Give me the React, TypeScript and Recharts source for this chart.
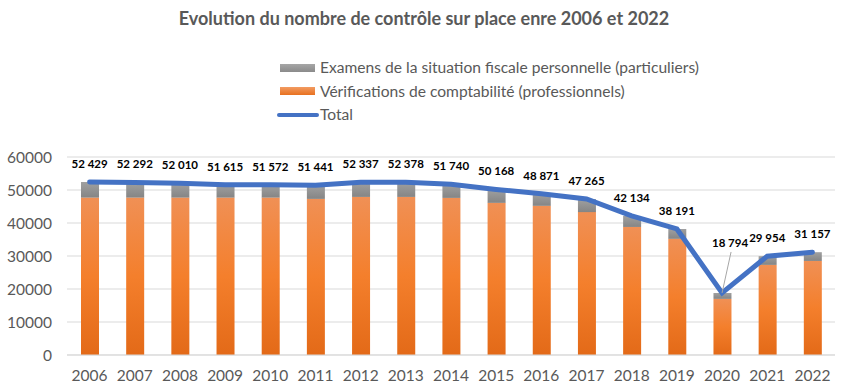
import { ComposedChart, Bar, Line, XAxis, YAxis, CartesianGrid, LabelList } from 'recharts';

const years = ['2006', '2007', '2008', '2009', '2010', '2011', '2012', '2013', '2014', '2015', '2016', '2017', '2018', '2019', '2020', '2021', '2022'];
const verifications = [47700, 47700, 47700, 47700, 47700, 47300, 47900, 47900, 47600, 46100, 45200, 43300, 38800, 35200, 17000, 27300, 28500];
const examens = [4729, 4592, 4310, 3915, 3872, 4141, 4437, 4478, 4140, 4068, 3671, 3965, 3334, 2991, 1794, 2654, 2657];
const totals = [52429, 52292, 52010, 51615, 51572, 51441, 52337, 52378, 51740, 50168, 48871, 47265, 42134, 38191, 18794, 29954, 31157];
const yTicks = [0, 10000, 20000, 30000, 40000, 50000, 60000];

const data = years.map((year, i) => ({
    year,
    verif: verifications[i],
    exam: examens[i],
    total: totals[i],
}));

const FONT = 'Lato, "Open Sans", sans-serif';
const TEXT = '#595959';

const fmt = (v: number) => String(v).replace(/\B(?=(\d{3})+(?!\d))/g, ' ');

// data label above each line point; 2020 gets a leader line
const TotalLabel = (props: any) => {
    const { x, y, value, index } = props;
    if (index === 14) {
        return (
            <g>
                <line x1={x + 9} y1={y - 41} x2={x} y2={y} stroke="#A6A6A6" strokeWidth={1} />
                <text x={x + 8} y={y - 46} textAnchor="middle" fontSize={11.5} fontWeight={700} fill="#000" fontFamily={FONT}>{fmt(value)}</text>
            </g>
        );
    }
    return (
        <text x={x} y={y - 14} textAnchor="middle" fontSize={11.5} fontWeight={700} fill="#000" fontFamily={FONT}>{fmt(value)}</text>
    );
};

export default function App() {
    return (
        <div style={{ position: 'absolute', left: 0, top: 0, width: 848, height: 391, background: '#fff', fontFamily: FONT }}>
            {/* Title */}
            <div style={{ position: 'absolute', top: 7, left: 0, width: 848, textAlign: 'center', fontSize: 18, fontWeight: 700, color: TEXT }}>
                Evolution du nombre de contrôle sur place enre 2006 et 2022
            </div>

            {/* Legend */}
            <div style={{ position: 'absolute', top: 56, left: 277, fontSize: 15.6, color: TEXT, lineHeight: '23.5px' }}>
                <div style={{ display: 'flex', alignItems: 'center' }}>
                    <span style={{ width: 35, height: 8, marginLeft: 3, marginRight: 5, background: 'linear-gradient(#a6a6a6, #8a8a8a)' }} />
                    Examens de la situation fiscale personnelle (particuliers)
                </div>
                <div style={{ display: 'flex', alignItems: 'center' }}>
                    <span style={{ width: 35, height: 8, marginLeft: 3, marginRight: 5, background: 'linear-gradient(#f29b62, #e8711f)' }} />
                    Vérifications de comptabilité (professionnels)
                </div>
                <div style={{ display: 'flex', alignItems: 'center' }}>
                    <span style={{ width: 42, height: 4, borderRadius: 2, marginRight: 1, background: '#4472C4' }} />
                    Total
                </div>
            </div>

            <div style={{ position: 'absolute', left: 0, top: 0 }}>
                <ComposedChart width={848} height={391} data={data} margin={{ top: 157, right: 13, bottom: 0, left: 0 }}>
                    <defs>
                        <linearGradient id="gOrange" x1="0" y1="0" x2="0" y2="1">
                            <stop offset="0%" stopColor="#F09055" />
                            <stop offset="50%" stopColor="#F47F2C" />
                            <stop offset="100%" stopColor="#E36A18" />
                        </linearGradient>
                        <linearGradient id="gGrey" x1="0" y1="0" x2="0" y2="1">
                            <stop offset="0%" stopColor="#A0A0A0" />
                            <stop offset="100%" stopColor="#858585" />
                        </linearGradient>
                    </defs>
                    <CartesianGrid vertical={false} stroke="#D9D9D9" />
                    <XAxis
                        dataKey="year"
                        height={36}
                        tickLine={false}
                        axisLine={{ stroke: '#D9D9D9' }}
                        tick={{ fill: TEXT, fontSize: 15.5, fontFamily: FONT }}
                        tickMargin={9}
                        interval={0}
                    />
                    <YAxis
                        width={67}
                        domain={[0, 60000]}
                        ticks={yTicks}
                        tickLine={false}
                        axisLine={false}
                        tickSize={0}
                        tickMargin={15}
                        tick={{ fill: TEXT, fontSize: 15.5, fontFamily: FONT }}
                    />
                    <Bar dataKey="verif" stackId="a" barSize={18} fill="url(#gOrange)" isAnimationActive={false} />
                    <Bar dataKey="exam" stackId="a" barSize={18} fill="url(#gGrey)" isAnimationActive={false} />
                    <Line dataKey="total" type="linear" stroke="#4472C4" strokeWidth={5} dot={false} activeDot={false} strokeLinecap="round" isAnimationActive={false}>
                        <LabelList dataKey="total" content={TotalLabel} />
                    </Line>
                </ComposedChart>
            </div>
        </div>
    );
}
